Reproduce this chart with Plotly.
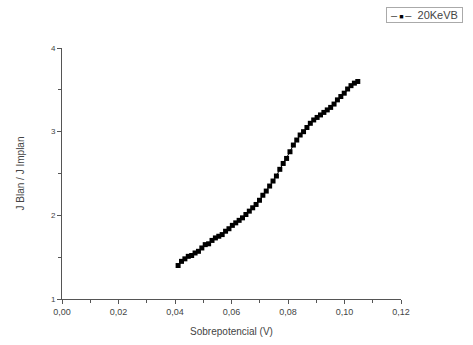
import plotly.graph_objects as go

x_vals = [0.0411, 0.0423, 0.0435, 0.0447, 0.0459, 0.0471, 0.0483, 0.0495, 0.0507, 0.0519,
          0.0531, 0.0543, 0.0555, 0.0567, 0.0579, 0.0591, 0.0603, 0.0615, 0.0627, 0.0639,
          0.0651, 0.0663, 0.0675, 0.0687, 0.0699, 0.0711, 0.0723, 0.0735, 0.0747, 0.0759,
          0.0771, 0.0783, 0.0795, 0.0807, 0.0819, 0.0831, 0.0843, 0.0855, 0.0867, 0.0879,
          0.0891, 0.0903, 0.0915, 0.0927, 0.0939, 0.0951, 0.0963, 0.0975, 0.0987, 0.0999,
          0.1011, 0.1023, 0.1035, 0.1047]
y_vals = [1.40, 1.45, 1.48, 1.51, 1.52, 1.55, 1.57, 1.61, 1.65, 1.66,
          1.70, 1.73, 1.75, 1.77, 1.81, 1.84, 1.88, 1.91, 1.94, 1.97,
          2.01, 2.05, 2.09, 2.13, 2.18, 2.24, 2.29, 2.35, 2.41, 2.47,
          2.55, 2.62, 2.68, 2.76, 2.84, 2.90, 2.96, 3.00, 3.05, 3.10,
          3.14, 3.17, 3.20, 3.23, 3.26, 3.29, 3.33, 3.38, 3.42, 3.46,
          3.51, 3.55, 3.58, 3.60]

series_name = "20KeVB"
x_title = "Sobrepotencial (V)"
y_title = "J Blan / J Implan"
x_ticks = [0.00, 0.02, 0.04, 0.06, 0.08, 0.10, 0.12]
y_ticks = [1, 2, 3, 4]

axis_color = "#555555"
text_color = "#444444"

fig = go.Figure()
fig.add_trace(go.Scatter(
    x=x_vals, y=y_vals, mode="lines+markers", name=series_name,
    line=dict(color="black", width=1),
    marker=dict(symbol="square", size=5, color="black"),
    showlegend=False,
))

# legend box drawn as a text annotation (Origin-style compact legend)
fig.add_annotation(
    xref="paper", yref="paper", x=0.956, y=1.163, xanchor="left", yanchor="top",
    text=" –<span style='font-size:7px;color:black'> ■ </span>–  " + series_name + " ",
    showarrow=False,
    font=dict(size=11, color=text_color, family="Arial, Liberation Sans, sans-serif"),
    bordercolor="#aaaaaa", borderwidth=1, borderpad=1, bgcolor="white",
)

fig.update_layout(
    width=473, height=345,
    margin=dict(l=62, r=72, t=48, b=46, autoexpand=False),
    paper_bgcolor="white", plot_bgcolor="white",
    separators=",.",
    font=dict(family="Arial, Liberation Sans, sans-serif", color=text_color, size=9),
)
fig.update_xaxes(
    range=[0, 0.12], tickvals=x_ticks, tickformat=".2f",
    showline=True, linecolor=axis_color, linewidth=1,
    ticks="outside", ticklen=4, tickcolor=axis_color, tickwidth=1,
    minor=dict(ticks="outside", ticklen=3, tickcolor=axis_color, dtick=0.01),
    showgrid=False, zeroline=False,
    title=dict(text=x_title, font=dict(size=10, color=text_color), standoff=12),
    tickfont=dict(size=9, color=text_color),
)
fig.update_yaxes(
    range=[1, 4], tickvals=y_ticks,
    showline=True, linecolor=axis_color, linewidth=1,
    ticks="outside", ticklen=4, tickcolor=axis_color, tickwidth=1,
    minor=dict(ticks="outside", ticklen=3, tickcolor=axis_color, dtick=0.5),
    showgrid=False, zeroline=False,
    title=dict(text=y_title, font=dict(size=10, color=text_color), standoff=24),
    tickfont=dict(size=8, color=text_color),
)

fig.write_html("out.html")
